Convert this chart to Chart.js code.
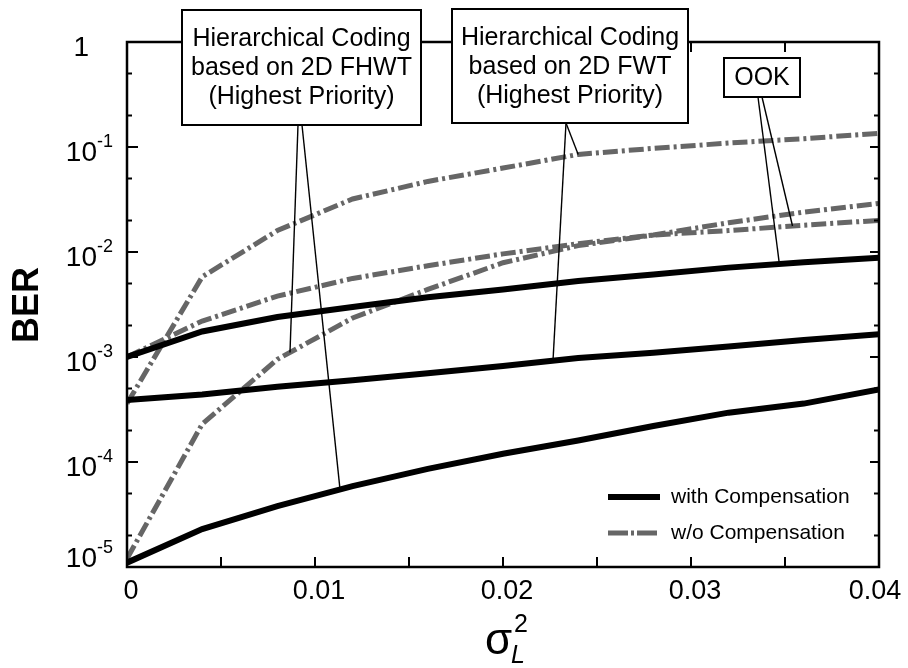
<!DOCTYPE html>
<html>
<head>
<meta charset="utf-8">
<script src="https://cdn.jsdelivr.net/npm/chart.js"></script>
<style>
  html, body { margin: 0; padding: 0; background: #fff; }
  canvas { display: block; }
</style>
</head>
<body>
<canvas id="ber-chart" width="908" height="668"></canvas>
<script>
// sigma_L^2 sample points
const xValues = [0, 0.004, 0.008, 0.012, 0.016, 0.02, 0.024, 0.028, 0.032, 0.036, 0.04];

// BER
const ookWith     = [1.0e-3, 1.75e-3, 2.4e-3, 3.0e-3, 3.7e-3, 4.4e-3, 5.3e-3, 6.1e-3, 7.1e-3, 8.0e-3, 8.8e-3];
const ookWithout  = [1.0e-3, 2.2e-3, 3.8e-3, 5.6e-3, 7.4e-3, 9.6e-3, 1.2e-2, 1.45e-2, 1.6e-2, 1.8e-2, 2.0e-2];
const fwtWith     = [3.9e-4, 4.4e-4, 5.2e-4, 6.0e-4, 7.0e-4, 8.2e-4, 9.8e-4, 1.1e-3, 1.26e-3, 1.45e-3, 1.65e-3];
const fwtWithout  = [3.6e-4, 5.8e-3, 1.6e-2, 3.2e-2, 4.7e-2, 6.3e-2, 8.5e-2, 9.7e-2, 0.109, 0.12, 0.135];
const fhwtWith    = [1.1e-5, 2.3e-5, 3.8e-5, 5.9e-5, 8.6e-5, 1.2e-4, 1.6e-4, 2.2e-4, 2.95e-4, 3.6e-4, 4.9e-4];
const fhwtWithout = [1.2e-5, 2.3e-4, 9.5e-4, 2.35e-3, 4.4e-3, 7.9e-3, 1.15e-2, 1.45e-2, 1.9e-2, 2.4e-2, 2.9e-2];

const xTickLabels = [0, 0.01, 0.02, 0.03, 0.04];
const xMinorTicks = [0.005, 0.015, 0.025, 0.035];
const yTickValues = [1, 1e-1, 1e-2, 1e-3, 1e-4, 1e-5];

const legendLabels = ["with Compensation", "w/o Compensation"];

const FONT = "'Liberation Sans', Arial, Helvetica, sans-serif";
const DASH = [15, 4, 3, 4];
const GRAY = "#666666";

const toPoints = (ys) => xValues.map((x, i) => ({ x: x, y: ys[i] }));

const solid = (label, ys) => ({
  label: label, data: toPoints(ys), borderColor: "#000", borderWidth: 6,
  pointRadius: 0, tension: 0, order: 1
});
const dashed = (label, ys) => ({
  label: label, data: toPoints(ys), borderColor: GRAY, borderWidth: 5,
  borderDash: DASH, pointRadius: 0, tension: 0, order: 2
});

// log-space interpolation on a series, so leaders land on the curve
function valueAt(series, x) {
  for (let i = 0; i < xValues.length - 1; i++) {
    if (x >= xValues[i] && x <= xValues[i + 1]) {
      const t = (x - xValues[i]) / (xValues[i + 1] - xValues[i]);
      return Math.pow(10, Math.log10(series[i]) * (1 - t) + Math.log10(series[i + 1]) * t);
    }
  }
  return series[series.length - 1];
}

const boxes = [
  { x: 182, y: 10, w: 239, h: 115, lines: ["Hierarchical Coding", "based on 2D FHWT", "(Highest Priority)"] },
  { x: 452, y: 9, w: 236, h: 114, lines: ["Hierarchical Coding", "based on 2D FWT", "(Highest Priority)"] },
  { x: 724, y: 58, w: 76, h: 39, lines: ["OOK"] }
];

const leaders = [
  { from: [298, 125], series: fhwtWithout, x: 0.00867 },
  { from: [302, 125], series: fhwtWith, x: 0.01133 },
  { from: [566, 123], series: fwtWithout, x: 0.024 },
  { from: [566, 123], series: fwtWith, x: 0.02266 },
  { from: [758, 97], series: ookWith, x: 0.0347 },
  { from: [762, 97], series: ookWithout, x: 0.0354 }
];

const decorations = {
  id: "decorations",
  afterDraw(chart) {
    const c = chart.ctx;
    const xs = chart.scales.x, ys = chart.scales.y;
    const a = chart.chartArea;
    c.save();
    c.strokeStyle = "#000";
    c.fillStyle = "#000";

    // frame
    c.lineWidth = 2.5;
    c.strokeRect(a.left, a.top, a.right - a.left, a.bottom - a.top);

    // x ticks, bottom and top
    c.lineWidth = 2;
    xTickLabels.concat(xMinorTicks).forEach(v => {
      const px = xs.getPixelForValue(v);
      c.beginPath();
      c.moveTo(px, a.bottom); c.lineTo(px, a.bottom - 10);
      c.moveTo(px, a.top); c.lineTo(px, a.top + 10);
      c.stroke();
    });

    // y ticks, left and right (decades long, 2 and 5 short)
    yTickValues.forEach(v => {
      const py = ys.getPixelForValue(v);
      c.beginPath();
      c.moveTo(a.left, py); c.lineTo(a.left + 11, py);
      c.moveTo(a.right, py); c.lineTo(a.right - 9, py);
      c.stroke();
      [2, 5].forEach(m => {
        const mv = v * m;
        if (mv >= 1) return;
        const my = ys.getPixelForValue(mv);
        c.beginPath();
        c.moveTo(a.left, my); c.lineTo(a.left + 5, my);
        c.moveTo(a.right, my); c.lineTo(a.right - 5, my);
        c.stroke();
      });
    });

    // x tick labels
    c.font = "27px " + FONT;
    c.textBaseline = "middle";
    c.textAlign = "center";
    xTickLabels.forEach((v, i) => {
      let px = xs.getPixelForValue(v) + 4;
      if (i === xTickLabels.length - 1) px = xs.getPixelForValue(v) - 4;
      c.fillText(String(v), px, 592);
    });

    // y tick labels 10^n
    yTickValues.forEach(v => {
      const e = Math.round(Math.log10(v));
      let cy = Math.min(ys.getPixelForValue(v) + 6, 559);
      c.font = "28px " + FONT;
      c.textAlign = "right";
      if (e === 0) {
        c.fillText("1", 89, cy);
        return;
      }
      c.fillText("10", 97, cy);
      c.font = "18px " + FONT;
      c.textAlign = "left";
      c.fillText(String(e), 97, cy - 11);
    });

    // axis titles
    c.save();
    c.translate(28, 305);
    c.rotate(-Math.PI / 2);
    c.font = "bold 36px " + FONT;
    c.textAlign = "center";
    c.fillText("BER", 0, 0);
    c.restore();

    c.textAlign = "left";
    c.textBaseline = "alphabetic";
    c.font = "44px " + FONT;
    c.fillText("σ", 485, 654);
    c.font = "italic 25px " + FONT;
    c.fillText("L", 511, 663);
    c.font = "25px " + FONT;
    c.fillText("2", 514, 632);

    // leader lines
    c.lineWidth = 1.4;
    leaders.forEach(l => {
      const tx = xs.getPixelForValue(l.x);
      const ty = ys.getPixelForValue(valueAt(l.series, l.x));
      c.beginPath();
      c.moveTo(l.from[0], l.from[1]);
      c.lineTo(tx, ty);
      c.stroke();
    });

    // annotation boxes
    boxes.forEach(b => {
      c.fillStyle = "#fff";
      c.fillRect(b.x, b.y, b.w, b.h);
      c.lineWidth = 2;
      c.strokeRect(b.x, b.y, b.w, b.h);
      c.fillStyle = "#000";
      c.font = "25px " + FONT;
      c.textAlign = "center";
      c.textBaseline = "middle";
      const step = 29;
      const top = b.y + b.h / 2 - (b.lines.length - 1) * step / 2;
      b.lines.forEach((t, i) => c.fillText(t, b.x + b.w / 2, top + i * step + 1));
    });

    // legend
    c.textAlign = "left";
    c.textBaseline = "middle";
    c.font = "21px " + FONT;
    c.lineWidth = 6;
    c.strokeStyle = "#000";
    c.beginPath(); c.moveTo(608, 497); c.lineTo(660, 497); c.stroke();
    c.fillText(legendLabels[0], 671, 497);
    c.lineWidth = 5;
    c.strokeStyle = GRAY;
    c.setLineDash([20, 3, 3, 3]);
    c.beginPath(); c.moveTo(608, 533); c.lineTo(660, 533); c.stroke();
    c.setLineDash([]);
    c.fillText(legendLabels[1], 671, 533);

    c.restore();
  }
};

new Chart(document.getElementById("ber-chart").getContext("2d"), {
  type: "line",
  data: {
    datasets: [
      solid("OOK with compensation", ookWith),
      solid("FWT with compensation", fwtWith),
      solid("FHWT with compensation", fhwtWith),
      dashed("OOK w/o compensation", ookWithout),
      dashed("FWT w/o compensation", fwtWithout),
      dashed("FHWT w/o compensation", fhwtWithout)
    ]
  },
  options: {
    responsive: false,
    animation: false,
    devicePixelRatio: 1,
    layout: { padding: { left: 127, right: 29, top: 42, bottom: 101 } },
    plugins: { legend: { display: false }, tooltip: { enabled: false } },
    scales: {
      x: { type: "linear", min: 0, max: 0.04, display: false },
      y: { type: "logarithmic", min: 1e-5, max: 1, display: false }
    }
  },
  plugins: [decorations]
});
</script>
</body>
</html>
